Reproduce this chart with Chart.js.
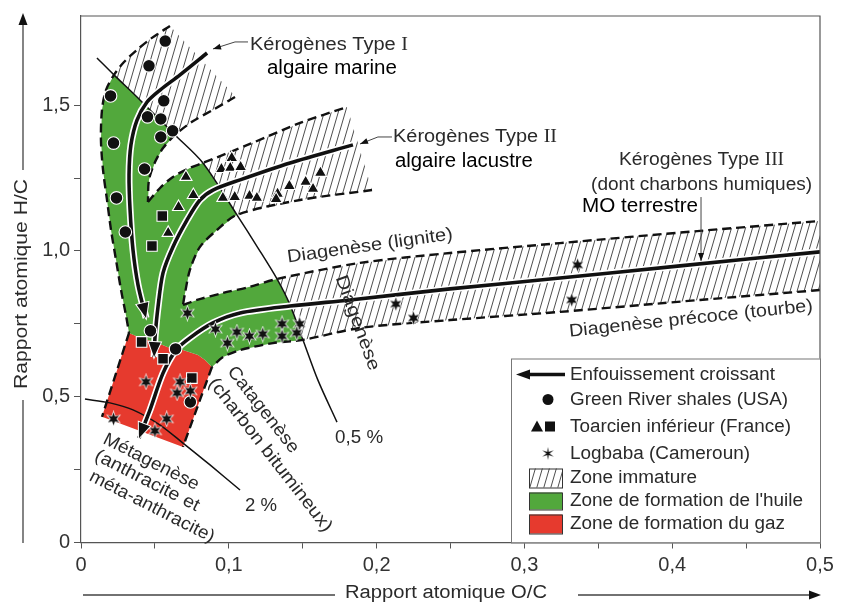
<!DOCTYPE html>
<html>
<head>
<meta charset="utf-8">
<script src="https://cdn.jsdelivr.net/npm/chart.js@4.4.1/dist/chart.umd.min.js"></script>
<style>html,body{margin:0;padding:0;background:#fff}</style>
</head>
<body>
<canvas id="c" width="842" height="609"></canvas>
<script>
// axis ticks
const xTicks = [0, 0.05, 0.1, 0.15, 0.2, 0.25, 0.3, 0.35, 0.4, 0.45, 0.5];
const yTicks = [0, 0.25, 0.5, 0.75, 1, 1.25, 1.5];

// samples (O/C, H/C)
const greenRiver = [[0.057,1.72],[0.046,1.635],[0.020,1.532],[0.056,1.515],[0.045,1.46],[0.054,1.453],[0.062,1.412],[0.054,1.391],[0.022,1.37],[0.043,1.281],[0.024,1.182],[0.030,1.065],[0.047,0.726],[0.064,0.664],[0.074,0.482]];
const toarcienTri = [[0.071,1.254],[0.076,1.192],[0.066,1.151],[0.059,1.062],[0.102,1.319],[0.095,1.281],[0.101,1.285],[0.108,1.288],[0.096,1.182],[0.104,1.185],[0.114,1.189],[0.119,1.182],[0.133,1.196],[0.132,1.178],[0.141,1.223],[0.152,1.237],[0.157,1.213],[0.162,1.268]];
const toarcienSq = [[0.055,1.12],[0.048,1.017],[0.041,0.688],[0.0555,0.63],[0.075,0.564]];
const logbaba = [[0.072,0.787],[0.091,0.732],[0.099,0.684],[0.1055,0.722],[0.114,0.708],[0.123,0.715],[0.136,0.75],[0.136,0.708],[0.148,0.75],[0.146,0.719],[0.044,0.551],[0.067,0.551],[0.074,0.52],[0.065,0.513],[0.022,0.424],[0.058,0.424],[0.050,0.383],[0.213,0.818],[0.225,0.77],[0.336,0.952],[0.332,0.832]];

// evolution paths of the kerogen types
const typeI = [[0.0853,1.679],[0.0670,1.604],[0.0535,1.552],[0.0447,1.511],[0.0379,1.449],[0.0338,1.364],[0.0325,1.261],[0.0332,1.141],[0.0352,1.003],[0.0386,0.883],[0.0440,0.770]];
const typeII = [[0.1840,1.364],[0.1414,1.302],[0.1076,1.244],[0.0893,1.209],[0.0805,1.175],[0.0717,1.106],[0.0622,1.014],[0.0555,0.925],[0.0521,0.808],[0.0501,0.705],[0.0494,0.636]];
const typeIII = [[0.5,0.997],[0.4053,0.949],[0.3241,0.907],[0.2497,0.870],[0.1820,0.832],[0.1414,0.811],[0.1076,0.787],[0.0893,0.753],[0.0737,0.702],[0.0643,0.660],[0.0555,0.581],[0.0467,0.455],[0.0392,0.358]];

// iso-reflectance lines
const ro05 = [[0.0108,1.662],[0.0223,1.604],[0.0399,1.518],[0.0636,1.398],[0.0825,1.302],[0.1055,1.124],[0.1198,1.010],[0.1326,0.904],[0.1414,0.815],[0.1502,0.695],[0.1603,0.557],[0.1732,0.413]];
const ro2 = [[0.0027,0.492],[0.0196,0.479],[0.0352,0.455],[0.0535,0.403],[0.0690,0.341],[0.0873,0.266],[0.1076,0.180]];

// dashed zone limits
const outerEdge = [[0.0602,1.772],[0.0480,1.731],[0.0379,1.690],[0.0291,1.648],[0.0223,1.604],[0.0169,1.552],[0.0142,1.484],[0.0135,1.381],[0.0149,1.278],[0.0176,1.175],[0.0203,1.072],[0.0237,0.969],[0.0271,0.866],[0.0304,0.780],[0.0325,0.719]];
const redLeft = [[0.0325,0.719],[0.0142,0.431]];
const innerI = [[0.1042,1.528],[0.0893,1.484],[0.0751,1.443],[0.0636,1.398],[0.0555,1.353],[0.0501,1.305],[0.0460,1.244],[0.0453,1.168]];
const upperII = [[0.0453,1.168],[0.0535,1.216],[0.0622,1.254],[0.0737,1.285],[0.0825,1.302],[0.1143,1.367],[0.1482,1.439],[0.1800,1.494]];
const lowerII = [[0.1969,1.209],[0.1482,1.175],[0.1055,1.124],[0.0920,1.072],[0.0805,1.014],[0.0737,0.935],[0.0704,0.856],[0.0690,0.815]];
const upperIII = [[0.0690,0.815],[0.0785,0.832],[0.0961,0.856],[0.1143,0.877],[0.1326,0.904],[0.1888,0.959],[0.2497,0.993],[0.3241,1.027],[0.4188,1.069],[0.5,1.103]];
const lowerIII = [[0.5,0.866],[0.4188,0.832],[0.3241,0.791],[0.2497,0.763],[0.1888,0.736],[0.1502,0.695],[0.1299,0.684],[0.1076,0.660],[0.0961,0.636],[0.0886,0.602]];
const redRight = [[0.0886,0.602],[0.0805,0.489],[0.0690,0.328]];

// zones
const oilZone = [[0.0223,1.604],[0.0399,1.518],[0.0636,1.398],[0.0555,1.353],[0.0501,1.305],[0.0460,1.244],[0.0453,1.168],[0.0535,1.216],[0.0622,1.254],[0.0737,1.285],[0.0825,1.302],[0.1055,1.124],[0.0920,1.072],[0.0805,1.014],[0.0737,0.935],[0.0704,0.856],[0.0690,0.815],[0.0785,0.832],[0.0961,0.856],[0.1143,0.877],[0.1326,0.904],[0.1414,0.815],[0.1502,0.695],[0.1299,0.684],[0.1076,0.660],[0.0961,0.636],[0.0886,0.602],[0.0839,0.626],[0.0792,0.643],[0.0690,0.660],[0.0602,0.667],[0.0501,0.688],[0.0399,0.702],[0.0325,0.719],[0.0304,0.780],[0.0271,0.866],[0.0237,0.969],[0.0203,1.072],[0.0176,1.175],[0.0149,1.278],[0.0135,1.381],[0.0142,1.484],[0.0169,1.552]];
const gasZone = [[0.0325,0.719],[0.0142,0.431],[0.0690,0.328],[0.0805,0.489],[0.0886,0.602],[0.0839,0.626],[0.0792,0.643],[0.0690,0.660],[0.0602,0.667],[0.0501,0.688],[0.0399,0.702]];
const immatureI = [[0.0223,1.604],[0.0291,1.648],[0.0379,1.690],[0.0480,1.731],[0.0602,1.772],[0.1055,1.525],[0.0893,1.484],[0.0751,1.443],[0.0636,1.398],[0.0399,1.518]];
const immatureII = [[0.0825,1.302],[0.1143,1.367],[0.1482,1.439],[0.1800,1.494],[0.1969,1.209],[0.1482,1.175],[0.1055,1.124]];
const immatureIII = [[0.1326,0.904],[0.1888,0.959],[0.2497,0.993],[0.3241,1.027],[0.4188,1.069],[0.5,1.103],[0.5,0.866],[0.4188,0.832],[0.3241,0.791],[0.2497,0.763],[0.1888,0.736],[0.1502,0.695],[0.1414,0.815]];

// leader arrows of the type labels
const leaders = [
  [[0.1130,1.717],[0.1042,1.717],[0.0893,1.693]],
  [[0.2104,1.391],[0.2009,1.391],[0.1888,1.367]],
  [[0.4195,1.185],[0.4195,0.966]]
];

const legendLabels = ['Enfouissement croissant', 'Green River shales (USA)', 'Toarcien inférieur (France)', 'Logbaba (Cameroun)', 'Zone immature', "Zone de formation de l'huile", 'Zone de formation du gaz'];

const SANS = '"Liberation Sans", Arial, sans-serif';
const SERIF = '"Liberation Serif", "Times New Roman", serif';
const TXT = '#2a2a2a';
const GREEN = '#52a83c';
const RED = '#e63a2e';

const notes = [
  {t: [['Kérogènes Type ', SANS], ['I', SERIF]], x: 0.1143, y: 1.691, size: 18, w: 158},
  {t: 'algaire marine', x: 0.1258, y: 1.607, size: 20, w: 130, color: '#000'},
  {t: [['Kérogènes Type ', SANS], ['II', SERIF]], x: 0.2111, y: 1.374, size: 18, w: 164},
  {t: 'algaire lacustre', x: 0.2124, y: 1.288, size: 20, w: 138, color: '#000'},
  {t: [['Kérogènes Type ', SANS], ['III', SERIF]], x: 0.3640, y: 1.295, size: 18, w: 165},
  {t: '(dont charbons humiques)', x: 0.3451, y: 1.209, size: 18, w: 221},
  {t: 'MO terrestre', x: 0.3390, y: 1.134, size: 20, w: 116, color: '#000'},
  {t: 'Diagenèse (lignite)', x: 0.1955, y: 1.017, size: 18, w: 167, rot: -8, align: 'center', base: 'middle'},
  {t: 'Diagenèse précoce (tourbe)', x: 0.4127, y: 0.767, size: 18, w: 245, rot: -6, align: 'center', base: 'middle'},
  {t: 'Diagenèse', x: 0.1870, y: 0.753, size: 18, w: 100, rot: 70, align: 'center', base: 'middle'},
  {t: '0,5 %', x: 0.1719, y: 0.341, size: 18, w: 48},
  {t: 'Catagenèse', x: 0.1231, y: 0.455, size: 18, w: 105, rot: 52, align: 'center', base: 'middle'},
  {t: '(charbon bitumineux)', x: 0.1279, y: 0.300, size: 18, w: 190, rot: 52, align: 'center', base: 'middle'},
  {t: 'Métagenèse', x: 0.0474, y: 0.276, size: 18, w: 105, rot: 27, align: 'center', base: 'middle'},
  {t: '(anthracite et', x: 0.0447, y: 0.211, size: 18, w: 115, rot: 27, align: 'center', base: 'middle'},
  {t: 'méta-anthracite)', x: 0.0480, y: 0.122, size: 18, w: 138, rot: 27, align: 'center', base: 'middle'},
  {t: '2 %', x: 0.1110, y: 0.108, size: 18, w: 32}
];

const canvas = document.getElementById('c');
const ctx = canvas.getContext('2d');

// hatch pattern
const tile = document.createElement('canvas');
tile.width = 7; tile.height = 24;
const tg = tile.getContext('2d');
tg.strokeStyle = '#3a3a3a'; tg.lineWidth = 0.9;
for (let k = -1; k <= 1; k++) {
  tg.beginPath(); tg.moveTo(k * 7, 24); tg.lineTo(k * 7 + 7, 0); tg.stroke();
}
const hatch = ctx.createPattern(tile, 'repeat');

function starImg(R, r, outline) {
  const s = Math.ceil(2 * R + 4);
  const c = document.createElement('canvas');
  c.width = c.height = s;
  const g = c.getContext('2d');
  g.translate(s / 2, s / 2);
  g.beginPath();
  for (let i = 0; i < 12; i++) {
    const rad = i % 2 ? r : R;
    const a = -Math.PI / 2 + i * Math.PI / 6;
    g.lineTo(Math.cos(a) * rad, Math.sin(a) * rad);
  }
  g.closePath();
  if (outline) { g.strokeStyle = '#fff'; g.lineWidth = 1.4; g.stroke(); }
  g.fillStyle = '#111'; g.fill();
  return c;
}
const starPoint = starImg(6.5, 2.8, true);
const starLegend = starImg(6.5, 1.6, false);

const toXY = a => a.map(p => ({x: p[0], y: p[1]}));
const zone = (a, color) => ({type: 'line', data: toXY(a), backgroundColor: color, borderColor: 'rgba(0,0,0,0)', borderWidth: 0, pointRadius: 0, fill: 'shape', tension: 0, order: 40});
const path = (a, w, color, dash, order) => ({type: 'line', data: toXY(a), borderColor: color, borderWidth: w, borderDash: dash || [], pointRadius: 0, fill: false, tension: 0.3, order: order});
const marks = (a, style, r, order) => ({type: 'scatter', data: toXY(a), pointStyle: style, pointRadius: r, backgroundColor: '#111', borderColor: '#fff', borderWidth: 1.1, order: order});

const datasets = [
  zone(oilZone, GREEN), zone(gasZone, RED),
  zone(immatureI, hatch), zone(immatureII, hatch), zone(immatureIII, hatch),
  path(ro05, 1.5, '#111', null, 30), path(ro2, 1.5, '#111', null, 30)
];
[outerEdge, redLeft, innerI, upperII, lowerII, upperIII, lowerIII, redRight].forEach(a => datasets.push(path(a, 2.4, '#111', [9, 5], 25)));
[typeI, typeII, typeIII].forEach(a => datasets.push(path(a, 7, '#fff', null, 21)));
const arrowSets = [];
[typeI, typeII, typeIII].forEach(a => { arrowSets.push(datasets.length); datasets.push(path(a, 3.6, '#111', null, 20)); });
datasets.push(marks(greenRiver, 'circle', 6.3, 4), marks(toarcienTri, 'triangle', 7, 3), marks(toarcienSq, 'rect', 7.5, 2), marks(logbaba, starPoint, 7, 1));

function txt(g, t, x, y, o) {
  const segs = (typeof t === 'string' ? [[t, SANS]] : t).map(s => ({s: s[0], f: s[1]}));
  g.save();
  g.translate(x, y);
  if (o.rot) g.rotate(o.rot * Math.PI / 180);
  let total = 0;
  segs.forEach(s => { g.font = o.size + 'px ' + s.f; s.w = g.measureText(s.s).width; total += s.w; });
  if (o.w) g.scale(o.w / total, 1);
  let cx = o.align === 'center' ? -total / 2 : 0;
  g.textAlign = 'left';
  g.textBaseline = o.base || 'alphabetic';
  g.fillStyle = o.color || TXT;
  segs.forEach(s => { g.font = o.size + 'px ' + s.f; g.fillText(s.s, cx, 0); cx += s.w; });
  g.restore();
}

function head(g, x0, y0, x1, y1, len, hw, outline) {
  const a = Math.atan2(y1 - y0, x1 - x0);
  g.save();
  g.translate(x1, y1); g.rotate(a);
  g.beginPath(); g.moveTo(0, 0); g.lineTo(-len, -hw); g.lineTo(-len, hw); g.closePath();
  if (outline) { g.strokeStyle = '#fff'; g.lineWidth = 2; g.stroke(); }
  g.fillStyle = '#111'; g.fill();
  g.restore();
}

function drawLegend(g, area) {
  const L = area.right - 309, T = area.bottom - 184;
  g.save();
  g.fillStyle = '#fff'; g.fillRect(L, T, 309, 184);
  g.strokeStyle = '#777'; g.lineWidth = 1; g.strokeRect(L + 0.5, T + 0.5, 309, 184);
  const rows = [16, 41, 68, 95, 119, 142, 165];
  const widths = [205, 218, 221, 180, 127, 233, 215];
  legendLabels.forEach((s, i) => txt(g, s, L + 59, T + rows[i] + 1, {size: 18, w: widths[i], base: 'middle'}));
  // arrow
  g.strokeStyle = '#111'; g.lineWidth = 3.5;
  g.beginPath(); g.moveTo(L + 14, T + rows[0]); g.lineTo(L + 54, T + rows[0]); g.stroke();
  head(g, L + 20, T + rows[0], L + 5, T + rows[0], 14, 5, false);
  // circle
  g.fillStyle = '#111';
  g.beginPath(); g.arc(L + 37, T + rows[1], 5.5, 0, Math.PI * 2); g.fill();
  // triangle + square
  g.beginPath(); g.moveTo(L + 26, T + rows[2] - 6); g.lineTo(L + 32, T + rows[2] + 5); g.lineTo(L + 20, T + rows[2] + 5); g.closePath(); g.fill();
  g.fillRect(L + 34, T + rows[2] - 5, 10, 10);
  // star
  g.drawImage(starLegend, L + 37 - starLegend.width / 2, T + rows[3] - starLegend.height / 2);
  // swatches
  const sw = [[hatch, 110, 19], [GREEN, 134, 17], [RED, 156, 19]];
  sw.forEach(s => {
    g.fillStyle = s[0]; g.fillRect(L + 18, T + s[1], 33, s[2]);
    g.strokeStyle = '#333'; g.lineWidth = 1; g.strokeRect(L + 18.5, T + s[1] + 0.5, 33, s[2]);
  });
  g.restore();
}

const decor = {
  id: 'decor',
  afterDatasetsDraw(chart) {
    const g = chart.ctx, sx = chart.scales.x, sy = chart.scales.y;
    const P = p => [sx.getPixelForValue(p[0]), sy.getPixelForValue(p[1])];
    arrowSets.forEach(i => {
      const pts = chart.getDatasetMeta(i).data;
      const a = pts[pts.length - 2], b = pts[pts.length - 1];
      head(g, a.x, a.y, b.x, b.y, 15, 6, true);
    });
    g.save();
    g.strokeStyle = '#444'; g.lineWidth = 1;
    leaders.forEach(l => {
      const q = l.map(P);
      g.beginPath(); q.forEach((p, k) => k ? g.lineTo(p[0], p[1]) : g.moveTo(p[0], p[1])); g.stroke();
      const a = q[q.length - 2], b = q[q.length - 1];
      head(g, a[0], a[1], b[0], b[1], 8, 3, false);
    });
    g.restore();
    notes.forEach(n => { const p = P([n.x, n.y]); txt(g, n.t, p[0], p[1], n); });
  },
  afterDraw(chart) {
    const g = chart.ctx, a = chart.chartArea;
    g.save();
    g.strokeStyle = '#555'; g.lineWidth = 1.2;
    g.beginPath(); g.moveTo(a.left, a.top); g.lineTo(a.right, a.top); g.lineTo(a.right, a.bottom); g.stroke();
    drawLegend(g, a);
    // axis titles with arrows
    g.strokeStyle = '#444'; g.lineWidth = 1.3;
    g.beginPath(); g.moveTo(23, 543); g.lineTo(23, 400); g.moveTo(23, 170); g.lineTo(23, 24); g.stroke();
    head(g, 23, 30, 23, 13, 12, 4.5, false);
    txt(g, 'Rapport atomique H/C', 22, 284, {size: 18, w: 210, rot: -90, align: 'center', base: 'middle'});
    g.beginPath(); g.moveTo(83, 595); g.lineTo(335, 595); g.moveTo(578, 595); g.lineTo(810, 595); g.stroke();
    head(g, 800, 595, 821, 595, 12, 4.5, false);
    txt(g, 'Rapport atomique O/C', 446, 593, {size: 18, w: 202, align: 'center', base: 'middle'});
    g.restore();
  }
};

const fmt = (v, step) => {
  const r = Math.round(v * 100);
  if (r % step !== 0) return '';
  return r === 0 ? '0' : (r / 100).toFixed(1).replace('.', ',');
};

new Chart(ctx, {
  type: 'scatter',
  data: {datasets: datasets},
  options: {
    responsive: false,
    animation: false,
    devicePixelRatio: 1,
    events: [],
    layout: {padding: {top: 16, right: 22, left: 0, bottom: 0}},
    plugins: {legend: {display: false}, tooltip: {enabled: false}},
    scales: {
      x: {
        type: 'linear', min: 0, max: 0.5,
        afterBuildTicks: s => { s.ticks = xTicks.map(v => ({value: v})); },
        afterFit: s => { s.height = 66.5; },
        grid: {drawOnChartArea: false, tickLength: 6, color: '#555'},
        border: {color: '#555', width: 1.2},
        ticks: {padding: 5, color: '#333', font: {family: SANS, size: 20}, autoSkip: false, maxRotation: 0, callback: v => fmt(v, 10)}
      },
      y: {
        type: 'linear', min: 0, max: 1.806,
        afterBuildTicks: s => { s.ticks = yTicks.map(v => ({value: v})); },
        afterFit: s => { s.width = 81; },
        grid: {drawOnChartArea: false, tickLength: 7, color: '#555'},
        border: {color: '#555', width: 1.2},
        ticks: {padding: 4, color: '#333', font: {family: SANS, size: 20}, autoSkip: false, callback: v => fmt(v, 50)}
      }
    }
  },
  plugins: [decor]
});
</script>
</body>
</html>
